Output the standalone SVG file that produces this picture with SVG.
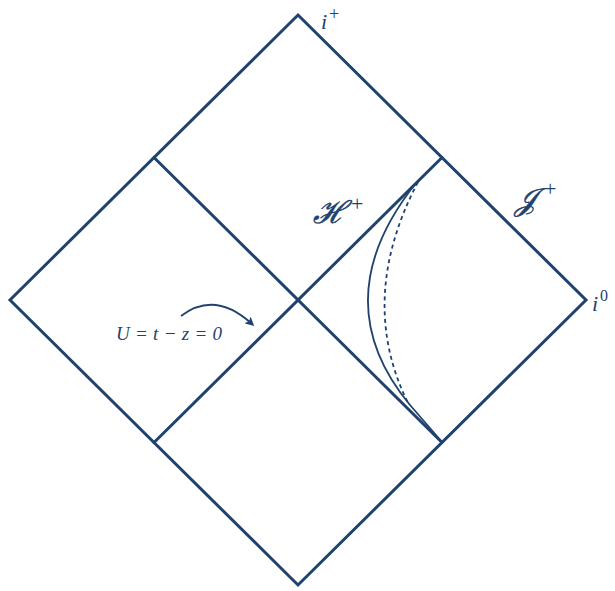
<svg xmlns="http://www.w3.org/2000/svg" width="615" height="591" viewBox="0 0 615 591">
<style>
.ln{stroke:#1f436e;stroke-width:3;fill:none;stroke-linejoin:miter;stroke-linecap:round}
.cv{stroke:#1f436e;stroke-width:1.8;fill:none}
.t{fill:#1f436e;font-family:"Liberation Serif","DejaVu Serif",serif;font-style:italic}
.s{fill:#1f436e;stroke:#1f436e;stroke-width:0.6;font-family:"DejaVu Serif","Liberation Serif",serif;font-style:italic}
.p{fill:#1f436e;font-family:"Liberation Serif",serif}
</style>
<defs>
<marker id="ah" markerWidth="9" markerHeight="9" refX="6" refY="4.5" orient="auto" markerUnits="userSpaceOnUse" viewBox="0 0 9 9">
<path d="M0,0 L9,4.5 L0,9 L2,4.5 Z" fill="#1f436e"/>
</marker>
</defs>
<g id="connectors">
<path class="ln" d="M298,15 L586,300 L298,585 L10,300 Z"/>
<path class="ln" d="M154,157.5 L442,442.5"/>
<path class="ln" d="M154,442.5 L442,157.5"/>
<path class="cv" d="M416,183 Q323,300 410,405 L442,442"/>
<path class="cv" d="M418,182 Q356,300 409,405" stroke-dasharray="4,3.5" stroke-width="2.6"/>
<path class="cv" d="M181,316 Q215,290 252,324" stroke-width="1.6" marker-end="url(#ah)"/>
</g>
<g id="label-iplus"><text class="t" x="321" y="29" font-size="22">i</text><text class="p" x="329" y="20" font-size="18">+</text></g>
<g id="label-i0"><text class="t" x="592" y="311" font-size="22">i</text><text class="p" x="600" y="301" font-size="16">0</text></g>
<g id="label-H"><text class="s" x="313" y="223" font-size="31">ℋ</text><text class="p" x="351" y="211" font-size="22">+</text></g>
<g id="label-J"><text class="s" x="515" y="210" font-size="31">𝒥</text><text class="p" x="544" y="196" font-size="22">+</text></g>
<g id="label-U"><text class="t" x="116" y="340" font-size="19" textLength="106">U = t − z = 0</text></g>
</svg>
